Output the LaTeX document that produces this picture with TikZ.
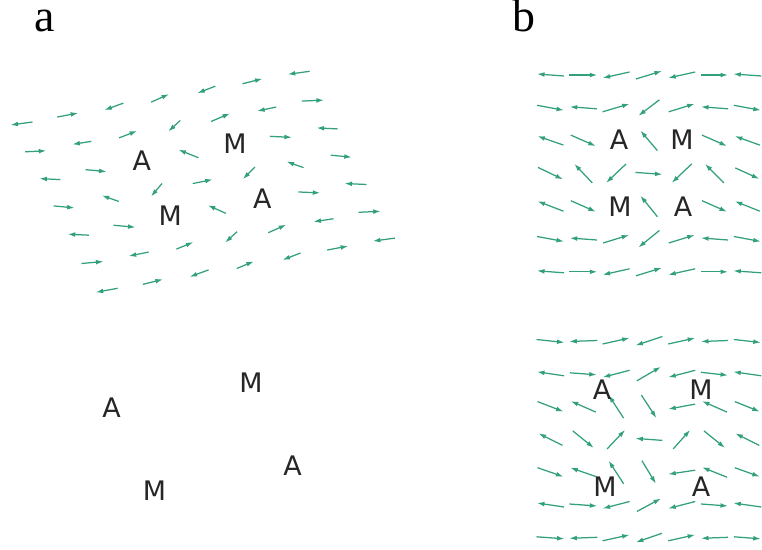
\documentclass[tikz,border=0pt]{standalone}
\usepackage{fontspec}
\setmainfont{Liberation Serif}
\newfontfamily\sitefont{DejaVu Sans}
\usetikzlibrary{arrows.meta}
\definecolor{spingreen}{HTML}{32A07B}
\tikzset{
    spin/.style={draw=spingreen, line width=1.25bp, -{Latex[length=7.5bp,width=4.8bp]}},
    site/.style={font=\sitefont\fontsize{27}{27}\selectfont, text=black!85, inner sep=0pt},
    panel/.style={font=\fontsize{46}{46}\selectfont, inner sep=0pt, anchor=base west}
}

\begin{document}
\begin{tikzpicture}[x=1bp,y=-1bp]
    \useasboundingbox (0,0) rectangle (762,550);
    \node[panel] (pa) at (34.5,32) {a};
    \node[panel] (pb) at (512.5,32) {b};

    \foreach[count=\r] \spins in {
        {-22/3,21/-4,-19/7,18/-8,-18/7,20/-5,-22/3},
        {21/-1,-19/3,18/-7,-12/11,19/-8,-19/4,22/-1},
        {-21/-1,21/2,0/0,-20/-8,0/0,22/1,-21/-1},
        {21/2,-17/-6,-11/13,20/-4,-12/12,-17/-6,21/2},
        {-21/-1,22/2,0/0,-18/-8,0/0,22/1,-22/-1},
        {22/-2,-20/4,17/-7,-12/11,18/-8,-20/3,22/-1},
        {-22/4,20/-5,-19/7,17/-7,-18/7,21/-4,-22/3}}
        \foreach[count=\c] \dx/\dy in \spins {
            \ifnum\dx=0 \else
            \draw[spin] ({21.5+46.2*(\c-1)+14.2*(\r-1)-0.5*\dx},{123.5-8.45*(\c-1)+27.8*(\r-1)-0.5*\dy}) -- ++(\dx,\dy);
            \fi
        }
    \node[site] (a1) at (141.7,160.5) {A};
    \node[site] (m1) at (235,144) {M};
    \node[site] (m2) at (170.3,216) {M};
    \node[site] (a2) at (262.3,199) {A};

    \node[site] (a3) at (111.5,408) {A};
    \node[site] (m3) at (251,382.5) {M};
    \node[site] (a4) at (292.5,466) {A};
    \node[site] (m4) at (154.5,491) {M};

    \foreach[count=\r] \spins in {
        {-27/-2,28/0,-27/6,26/-8,-27/6,27/0,-28/-2},
        {27/5,-27/-2,27/-8,-21/16,26/-8,-27/-2,27/5},
        {-26/-9,25/11,0/0,-17/-20,0/0,25/11,-25/-9},
        {25/12,-18/-19,-20/19,27/2,-20/19,-19/-19,24/11},
        {-26/-10,25/11,0/0,-17/-21,0/0,25/11,-25/-10},
        {27/5,-27/-2,26/-8,-21/17,26/-8,-27/-2,27/5},
        {-27/-2,28/0,-27/6,26/-8,-27/6,27/0,-28/-2}}
        \foreach[count=\c] \dx/\dy in \spins {
            \ifnum\dx=0 \else
            \draw[spin] ({550.5+32.8*(\c-1)-0.5*\dx},{75+32.8*(\r-1)-0.5*\dy}) -- ++(\dx,\dy);
            \fi
        }
    \node[site] (a5) at (619,140) {A};
    \node[site] (m5) at (682,140) {M};
    \node[site] (m6) at (620,207) {M};
    \node[site] (a6) at (683,207) {A};

    \foreach[count=\r] \spins in {
        {28/3,-28/1,27/-6,-27/9,27/-6,-27/1,27/3},
        {-27/-4,27/2,-27/7,24/-14,-27/7,27/3,-28/-4},
        {26/10,-25/-11,-15/-23,15/23,-27/5,-25/-11,25/10},
        {-24/-12,21/17,18/-19,-27/-2,17/-19,21/17,-24/-12},
        {26/9,-26/-9,-15/-23,14/23,-27/4,-25/-10,25/9},
        {-27/-4,28/2,-27/7,24/-13,-27/7,27/2,-28/-4},
        {28/2,-28/1,27/-6,-26/9,27/-6,-27/1,27/2}}
        \foreach[count=\c] \dx/\dy in \spins {
            \draw[spin] ({550.5+32.8*(\c-1)-0.5*\dx},{341+32.8*(\r-1)-0.5*\dy}) -- ++(\dx,\dy);
        }
    \node[site] (a7) at (602,390) {A};
    \node[site] (m7) at (701,390) {M};
    \node[site] (m8) at (605,487) {M};
    \node[site] (a8) at (701,487) {A};
\end{tikzpicture}
\end{document}
